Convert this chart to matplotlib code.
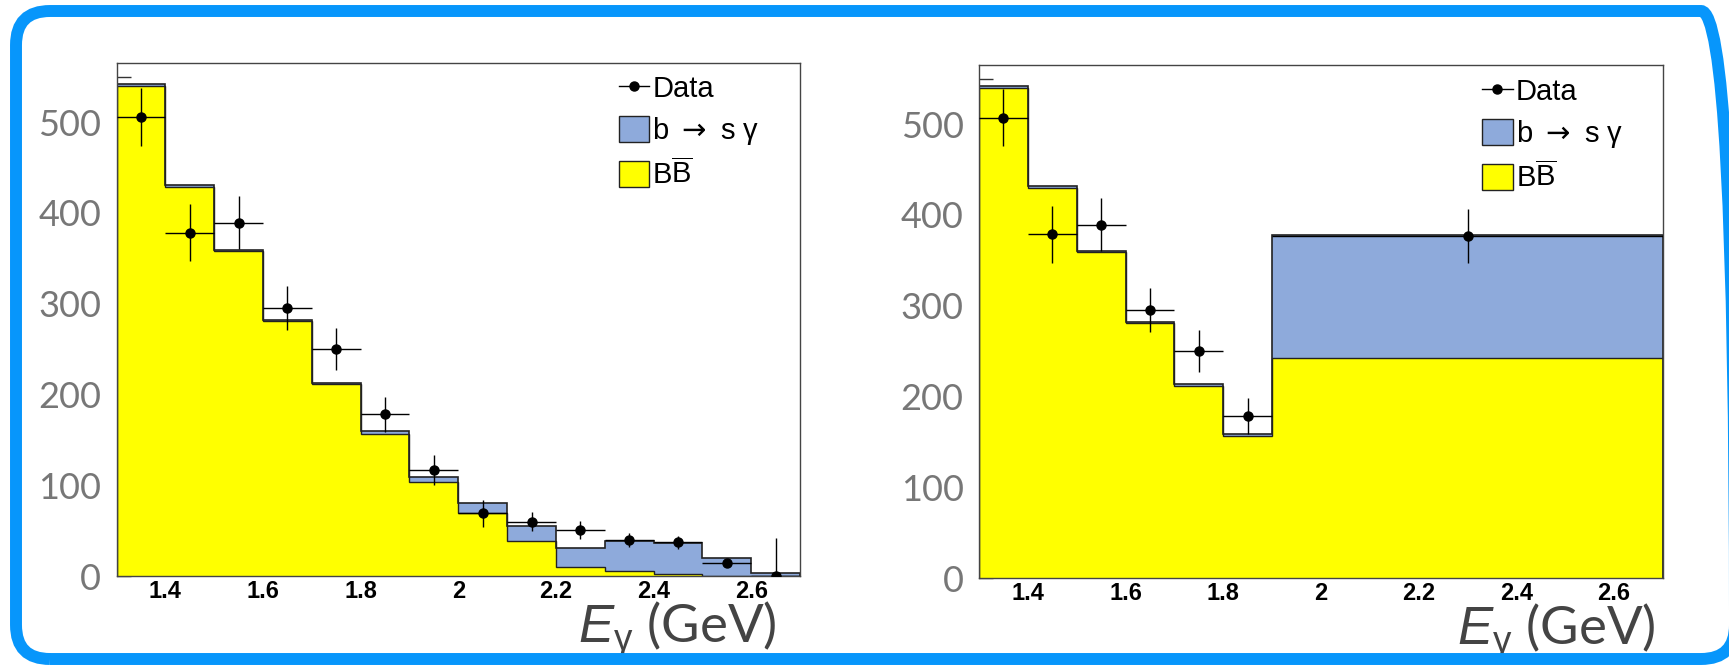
import numpy as np
import matplotlib
matplotlib.use("Agg")
import matplotlib.pyplot as plt
from matplotlib.patches import Patch, FancyBboxPatch
from matplotlib.lines import Line2D
from matplotlib.ticker import MultipleLocator
from matplotlib.font_manager import FontProperties
from matplotlib.transforms import IdentityTransform

plt.rcParams.update({
    'mathtext.fontset': 'custom',
    'mathtext.rm': 'Liberation Sans',
    'mathtext.it': 'Liberation Sans:italic',
    'mathtext.bf': 'Liberation Sans:bold',
})

# --- Daten: linkes Panel (14 Bins zu 0.1 GeV) ---
edges_l = [1.3, 1.4, 1.5, 1.6, 1.7, 1.8, 1.9, 2.0, 2.1, 2.2, 2.3, 2.4, 2.5, 2.6, 2.7]
bb_l = [540, 429, 358, 281, 212, 156, 104, 69.5, 38.5, 10, 5.5, 2.5, 0.5, 0]
bsg_l = [2, 2, 1, 1, 1, 3.5, 4.7, 10.5, 16.5, 21.3, 33.1, 33.5, 19.1, 3]
data_x_l = [1.35, 1.45, 1.55, 1.65, 1.75, 1.85, 1.95, 2.05, 2.15, 2.25, 2.35, 2.45, 2.55, 2.65]
data_y_l = [506, 378, 389, 295, 250, 178, 117, 69, 60, 51, 39.5, 37, 14, 0.5]
data_err_l = [32, 31.5, 29, 24.5, 23, 19.5, 16.5, 14.5, 10, 10, 8, 7, 4, 41]
data_xerr_l = [0.05] * 14

# --- Daten: rechtes Panel (letzter Bin 1.9-2.7) ---
edges_r = [1.3, 1.4, 1.5, 1.6, 1.7, 1.8, 1.9, 2.7]
bb_r = [540, 430, 359, 281, 212, 156.5, 242]
bsg_r = [2, 1.5, 1, 1, 1.5, 2, 136]
data_x_r = [1.35, 1.45, 1.55, 1.65, 1.75, 1.85, 2.3]
data_y_r = [507, 378.5, 389, 295, 250, 178.5, 377]
data_err_r = [31.5, 31.5, 29, 24.5, 23, 20, 29.5]
data_xerr_r = [0.05, 0.05, 0.05, 0.05, 0.05, 0.05, 0.4]

xticks = [1.4, 1.6, 1.8, 2.0, 2.2, 2.4, 2.6]
xticklabels = ['1.4', '1.6', '1.8', '2', '2.2', '2.4', '2.6']
yticks = [0, 100, 200, 300, 400, 500]

c_blue = '#8eaadb'
c_yellow = '#ffff00'
c_line = '#222222'

fig = plt.figure(figsize=(17.29, 6.69), dpi=100)

# Blauer Rahmen mit runden Ecken (Folienrahmen)
border = FancyBboxPatch((16, 10), 1719, 648, boxstyle='round,pad=0,rounding_size=34',
                        transform=IdentityTransform(), facecolor='none',
                        edgecolor='#0796fb', lw=8.6, clip_on=False)
fig.add_artist(border)

ax_l = fig.add_axes([0.0674, 0.139, 0.3953, 0.7668])
ax_r = fig.add_axes([0.5662, 0.136, 0.3956, 0.7668])

leg_font = FontProperties(family=['Liberation Sans', 'DejaVu Sans'], size=21)


def draw_panel(ax, edges, bb, bsg, dx, dy, derr, dxerr, label_x, leg_anchor):
    bb = np.array(bb)
    total = bb + np.array(bsg)
    ax.stairs(total, edges, fill=True, facecolor=c_blue, lw=0, zorder=1)
    ax.stairs(bb, edges, fill=True, facecolor=c_yellow, lw=0, zorder=1.1)
    ax.stairs(total, edges, color=c_line, lw=1.2, zorder=1.2)
    ax.stairs(bb, edges, color=c_line, lw=1.0, zorder=1.2)
    ax.errorbar(dx, dy, yerr=derr, xerr=dxerr, fmt='o', color='black', ms=6.5,
                elinewidth=1.0, capsize=0, zorder=3)

    ax.set_xlim(1.3, 2.7)
    ax.set_ylim(0, 565)
    ax.set_axisbelow(True)

    ax.set_xticks(xticks)
    ax.set_xticklabels(xticklabels, fontfamily='Liberation Sans', fontweight='bold', fontsize=17)
    ax.tick_params(axis='x', length=0, pad=3, colors='black')

    ax.set_yticks(yticks)
    ax.yaxis.set_minor_locator(MultipleLocator(50))
    ax.set_yticklabels([str(v) for v in yticks], fontfamily='Lato', fontsize=26, color='#777777')
    ax.tick_params(axis='y', which='both', direction='in', length=10, width=1, pad=11, colors='#333333')
    ax.tick_params(axis='y', labelcolor='#777777')

    for sp in ax.spines.values():
        sp.set_color('#444444')
        sp.set_linewidth(1.0)

    ax.set_xlabel(r'$E_{\mathrm{γ}}$ (GeV)', fontfamily='Lato', fontsize=38, color='#444444',
                  loc='right', va='baseline')
    ax.xaxis.set_label_coords(label_x, -0.129)

    handles = [
        Line2D([], [], color='black', marker='o', ms=6.5, lw=1.0),
        Patch(facecolor=c_blue, edgecolor=c_line, lw=1.0),
        Patch(facecolor=c_yellow, edgecolor=c_line, lw=1.0),
    ]
    labels = ['Data', r'b $\rightarrow$ s γ', r'B$\overline{\mathrm{B}}$']
    leg = ax.legend(handles, labels, loc='upper left', bbox_to_anchor=leg_anchor, frameon=False,
                    prop=leg_font, handlelength=1.05, handleheight=1.0, handletextpad=0.1,
                    labelspacing=0.4, borderpad=0, borderaxespad=0)
    # Pfeil aus DejaVu (Liberation-Pfeil ist sehr klein)
    leg.get_texts()[1].set_math_fontfamily('dejavusans')


draw_panel(ax_l, edges_l, bb_l, bsg_l, data_x_l, data_y_l, data_err_l, data_xerr_l,
           0.966, (0.7347, 0.9786))
draw_panel(ax_r, edges_r, bb_r, bsg_r, data_x_r, data_y_r, data_err_r, data_xerr_r,
           0.989, (0.7354, 0.9766))

fig.savefig('out.png', dpi=100)
